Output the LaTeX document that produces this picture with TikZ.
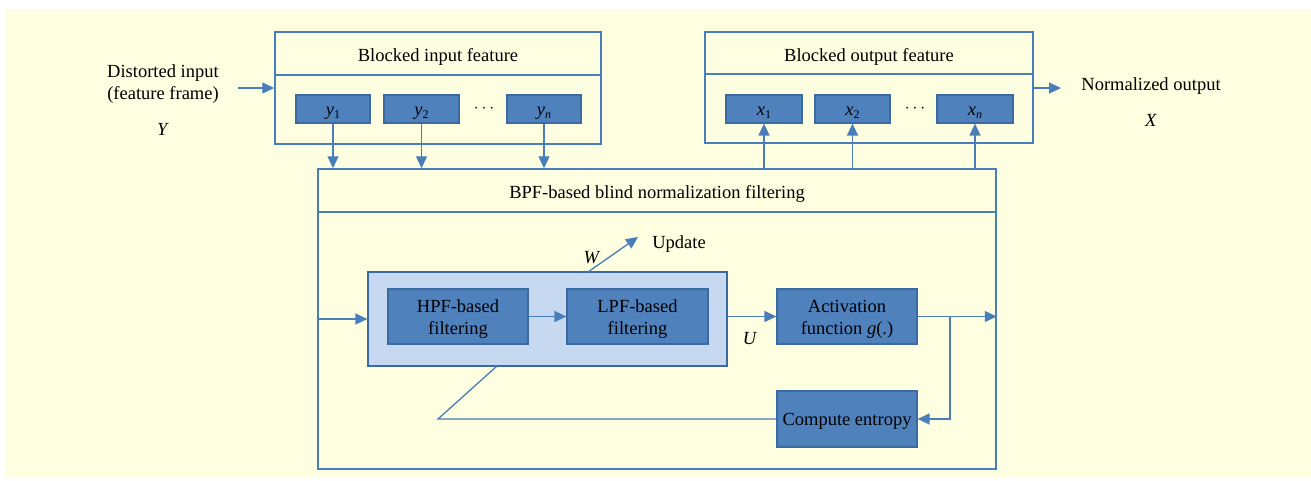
\documentclass[tikz,border=0pt]{standalone}
\usepackage{fontspec}
\setmainfont{Liberation Serif}
\usetikzlibrary{arrows.meta}
\definecolor{bgy}{HTML}{FEFEE0}
\definecolor{ln}{HTML}{4A7EBB}
\definecolor{dk}{HTML}{4F81BD}
\definecolor{dkb}{HTML}{3B6AA0}
\definecolor{lt}{HTML}{C6D9F1}
\newcommand{\vsub}[2]{\textit{#1}\raisebox{-0.25ex}{\fontsize{12}{12}\selectfont #2}}
\newcommand{\dn}[1]{\raisebox{0pt}[\dimexpr\height+5pt\relax][\depth]{\begin{tabular}{@{}c@{}}#1\end{tabular}}}
\begin{document}
\begin{tikzpicture}[x=1pt,y=-1pt,
  font=\fontsize{18.5}{22}\selectfont,
  line/.style={draw=ln, line width=1.3pt},
  arr/.style={line, -{Triangle[length=12pt,width=11pt]}},
  frame/.style={draw=ln, line width=1.5pt, fill=bgy, inner sep=0pt},
  dbox/.style={draw=dkb, line width=1.2pt, fill=dk, inner sep=0pt, align=center},
  lbox/.style={draw=dkb, line width=1.2pt, fill=lt, inner sep=0pt},
  txt/.style={inner sep=0pt, align=center, yshift=-2.5pt}]
\useasboundingbox (0,0) rectangle (1311,480);
\fill[bgy] (6,9) rectangle (1311,478);

% input block
\node[frame, minimum width=326pt, minimum height=112pt] (inF) at (438,88) {};
\draw[line, line width=1.5pt] (inF.west |- 0,75) -- (inF.east |- 0,75);
\node[txt] (inT) at (438,54) {Blocked input feature};
\node[dbox, minimum width=74pt, minimum height=28pt] (y1) at (333,109) {\dn{\vsub{y}{1}}};
\node[dbox, minimum width=75pt, minimum height=28pt] (y2) at (421.5,109) {\dn{\vsub{y}{2}}};
\node[dbox, minimum width=74pt, minimum height=28pt] (yn) at (544,109) {\dn{\vsub{y}{\textit{n}}}};
\node[txt] (yd) at (484,106) {$\cdots$};

% output block
\node[frame, minimum width=328pt, minimum height=111pt] (outF) at (869,87.5) {};
\draw[line, line width=1.5pt] (outF.west |- 0,74) -- (outF.east |- 0,74);
\node[txt] (outT) at (869,54) {Blocked output feature};
\node[dbox, minimum width=76pt, minimum height=28pt] (x1) at (764,109) {\dn{\vsub{x}{1}}};
\node[dbox, minimum width=75pt, minimum height=28pt] (x2) at (852.5,109) {\dn{\vsub{x}{2}}};
\node[dbox, minimum width=76pt, minimum height=28pt] (xn) at (975,109) {\dn{\vsub{x}{\textit{n}}}};
\node[txt] (xd) at (915,106) {$\cdots$};

% side labels
\node[txt] (din) at (163,82) {Distorted input\\(feature frame)};
\node[txt] (Y) at (163,127) {\textit{Y}};
\coordinate (inS) at (238,88);
\draw[arr] (inS) -- (inF.west |- inS);
\node[txt] (nout) at (1151,84) {Normalized output};
\node[txt] (X) at (1151,118) {\textit{X}};
\coordinate (outE) at (1061,88);
\draw[arr] (outF.east |- outE) -- (outE);

% main block
\node[frame, minimum width=678pt, minimum height=300pt] (main) at (657,319) {};
\draw[line, line width=1.5pt] (main.west |- 0,212) -- (main.east |- 0,212);
\node[txt] (mainT) at (657,191) {BPF-based blind normalization filtering};

\foreach \n in {y1,y2,yn} \draw[arr] (\n.south) -- (\n.south |- main.north);
\foreach \n in {x1,x2,xn} \draw[arr] (\n.south |- main.north) -- (\n.south);

% inner
\node[lbox, minimum width=359pt, minimum height=94pt] (blue) at (547.5,319) {};
\node[dbox, minimum width=140pt, minimum height=55pt] (hpf) at (458,316.5) {\dn{HPF-based\\filtering}};
\node[dbox, minimum width=141pt, minimum height=55pt] (lpf) at (637.5,316.5) {\dn{LPF-based\\filtering}};
\node[dbox, minimum width=140pt, minimum height=55pt] (act) at (847,316.5) {\dn{Activation\\function \textit{g}(.)}};
\node[dbox, minimum width=140pt, minimum height=56pt] (comp) at (847,419) {\dn{Compute entropy}};

\draw[arr] (main.west |- blue.west) -- (blue.west);
\draw[arr] (hpf.east) -- (lpf.west);
\draw[arr] (blue.east |- act.west) -- (act.west);
\draw[arr] (act.east) -- (main.east |- act.east);
\coordinate (br) at (950,316.5);
\draw[arr] (br) |- (comp.east);
\coordinate (c1) at (438,419);
\coordinate (c2) at (497,366);
\draw[line] (comp.west) -- (c1) -- (c2);
\coordinate (w0) at (588,272);
\coordinate (w1) at (638,237);
\draw[arr] (w0) -- (w1);
\node[txt] (W) at (592,255) {\textit{W}};
\node[txt] (upd) at (679,242) {Update};
\node[txt] (U) at (750,336) {\textit{U}};
\end{tikzpicture}
\end{document}
